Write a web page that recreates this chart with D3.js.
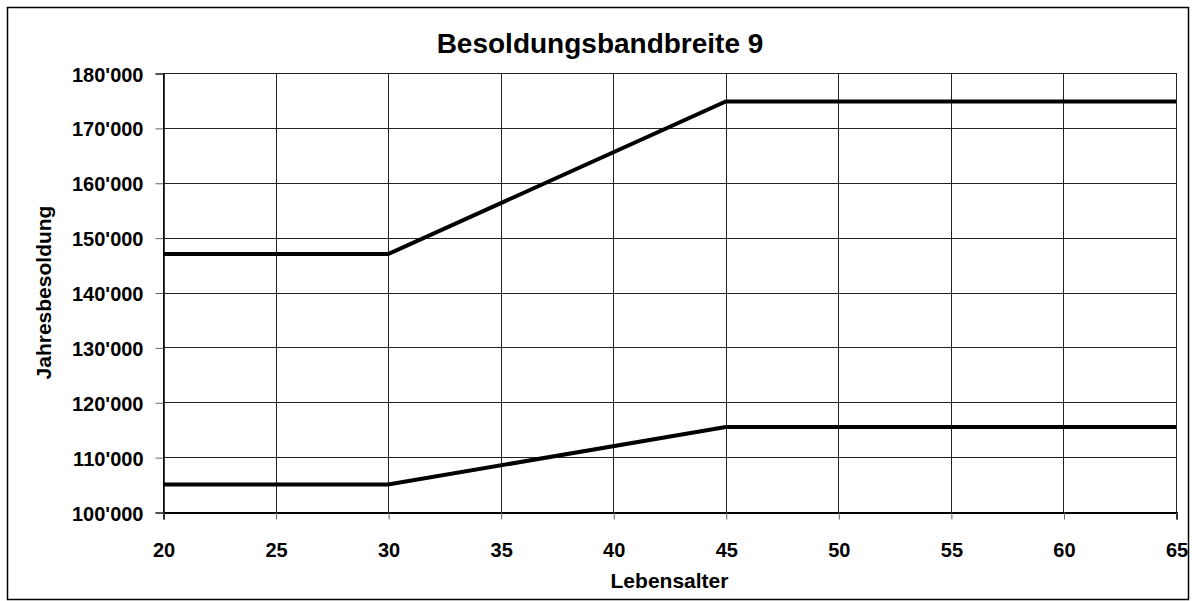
<!DOCTYPE html>
<html><head><meta charset="utf-8">
<script src="https://cdn.jsdelivr.net/npm/d3@7"></script>
<style>body{margin:0;background:#fff}svg{display:block}text{font-family:Arial,"Liberation Sans",sans-serif;font-weight:bold;fill:#000}</style>
</head><body><svg id="c" width="1196" height="601"></svg>
<script>
const title = "Besoldungsbandbreite 9";
const xTitle = "Lebensalter";
const yTitle = "Jahresbesoldung";
const ages = [20, 30, 45, 65];
const maxSalary = [147000, 147000, 174800, 174800];
const minSalary = [105000, 105000, 115500, 115500];
const xTicks = [20, 25, 30, 35, 40, 45, 50, 55, 60, 65];
const yTicks = [100000, 110000, 120000, 130000, 140000, 150000, 160000, 170000, 180000];

const svg = d3.select("#c");
const L = 163, R = 1176, T = 73, B = 512;
const x = d3.scaleLinear().domain([20, 65]).range([L, R]);
const y = d3.scaleLinear().domain([100000, 180000]).range([B, T]);
const fmt = v => d3.format(",")(v).replace(/,/g, "'");

svg.append("rect").attr("x", 7.5).attr("y", 7.5).attr("width", 1181).attr("height", 592)
  .attr("fill", "none").attr("stroke", "#000").attr("stroke-width", 1.5);

// grid
const g = svg.append("g");
g.selectAll(".hg").data(yTicks).join("line")
  .attr("x1", L).attr("x2", R).attr("y1", d => Math.round(y(d)) + 0.5).attr("y2", d => Math.round(y(d)) + 0.5)
  .attr("stroke", "#222").attr("stroke-width", 1);
g.selectAll(".vg").data(xTicks).join("line")
  .attr("y1", T).attr("y2", B).attr("x1", d => Math.round(x(d)) + 0.5).attr("x2", d => Math.round(x(d)) + 0.5)
  .attr("stroke", "#222").attr("stroke-width", 1);

// axes
const yAxis = d3.axisLeft(y).tickValues(yTicks).tickFormat(fmt).tickSize(8).tickPadding(12);
const ya = svg.append("g").attr("transform", `translate(${L + 0.5},0.5)`).call(yAxis);
ya.select(".domain").attr("stroke", "#000").attr("stroke-width", 1.5);
ya.selectAll(".tick line").attr("stroke", "#666");
ya.selectAll(".tick text").attr("font-size", 20).attr("font-weight", "bold")
  .attr("font-family", "Arial, 'Liberation Sans', sans-serif").attr("fill", "#000").attr("dy", "0.38em");

const xAxis = d3.axisBottom(x).tickValues(xTicks).tickSize(7).tickPadding(0);
const xa = svg.append("g").attr("transform", `translate(0.5,${B + 0.5})`).call(xAxis);
xa.select(".domain").attr("stroke", "#000").attr("stroke-width", 2);
xa.selectAll(".tick line").attr("stroke", "#666");
xa.selectAll(".tick text").attr("font-size", 20).attr("font-weight", "bold")
  .attr("font-family", "Arial, 'Liberation Sans', sans-serif").attr("fill", "#000")
  .attr("y", 44).attr("dy", 0);

// lines
const line = d3.line().x(d => x(d[0])).y(d => y(d[1]));
[maxSalary, minSalary].forEach(s => {
  svg.append("path").datum(ages.map((a, i) => [a, s[i]])).attr("d", line)
    .attr("fill", "none").attr("stroke", "#000").attr("stroke-width", 4);
});

svg.append("text").attr("x", 600).attr("y", 53).attr("text-anchor", "middle").attr("font-size", 28).text(title);
svg.append("text").attr("x", (L + R) / 2).attr("y", 588).attr("text-anchor", "middle").attr("font-size", 21).text(xTitle);
svg.append("text").attr("transform", `translate(51,${(T + B) / 2}) rotate(-90)`).attr("text-anchor", "middle").attr("font-size", 21).text(yTitle);
</script></body></html>
